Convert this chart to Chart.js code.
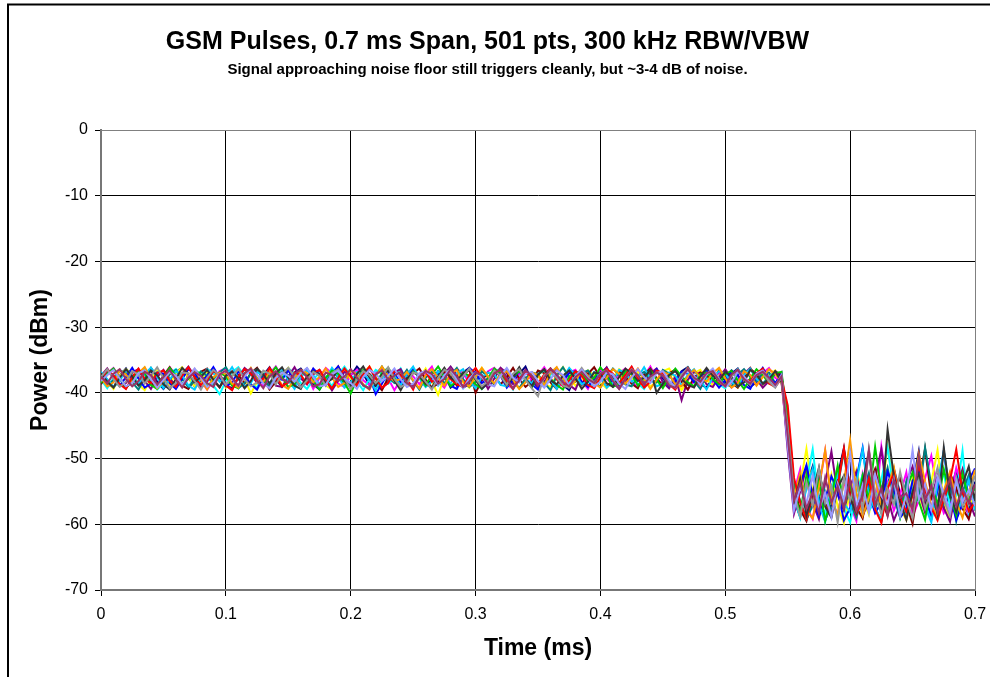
<!DOCTYPE html>
<html>
<head>
<meta charset="utf-8">
<title>GSM Pulses</title>
<script src="https://cdn.jsdelivr.net/npm/chart.js@4/dist/chart.umd.min.js"></script>
<style>
  body { margin: 0; background: #fff; overflow: hidden; }
  canvas { display: block; }
</style>
</head>
<body>
<canvas id="myChart" width="990" height="677"></canvas>
<script>
// time axis (ms), one sample every 0.005 ms
const timeMs = [
  0,0.005,0.01,0.015,0.02,0.025,0.03,0.035,0.04,0.045,
  0.05,0.055,0.06,0.065,0.07,0.075,0.08,0.085,0.09,0.095,
  0.1,0.105,0.11,0.115,0.12,0.125,0.13,0.135,0.14,0.145,
  0.15,0.155,0.16,0.165,0.17,0.175,0.18,0.185,0.19,0.195,
  0.2,0.205,0.21,0.215,0.22,0.225,0.23,0.235,0.24,0.245,
  0.25,0.255,0.26,0.265,0.27,0.275,0.28,0.285,0.29,0.295,
  0.3,0.305,0.31,0.315,0.32,0.325,0.33,0.335,0.34,0.345,
  0.35,0.355,0.36,0.365,0.37,0.375,0.38,0.385,0.39,0.395,
  0.4,0.405,0.41,0.415,0.42,0.425,0.43,0.435,0.44,0.445,
  0.45,0.455,0.46,0.465,0.47,0.475,0.48,0.485,0.49,0.495,
  0.5,0.505,0.51,0.515,0.52,0.525,0.53,0.535,0.54,0.545,
  0.55,0.555,0.56,0.565,0.57,0.575,0.58,0.585,0.59,0.595,
  0.6,0.605,0.61,0.615,0.62,0.625,0.63,0.635,0.64,0.645,
  0.65,0.655,0.66,0.665,0.67,0.675,0.68,0.685,0.69,0.695,
  0.7
];

const xTicks = [0, 0.1, 0.2, 0.3, 0.4, 0.5, 0.6, 0.7];
const yTicks = [0, -10, -20, -30, -40, -50, -60, -70];

// power traces (dBm), one per sweep
const traceNavy = [
  -37.1,-38.6,-39.2,-37.4,-36.3,-37.9,-38.8,-37.0,-36.6,-38.3,
  -39.4,-38.1,-36.8,-36.2,-37.7,-39.0,-38.4,-37.2,-36.5,-37.8,
  -38.9,-39.3,-37.6,-36.4,-37.0,-38.5,-37.3,-36.1,-37.9,-39.1,
  -38.2,-36.9,-36.3,-37.5,-38.7,-39.5,-37.8,-36.6,-37.2,-38.6,
  -37.4,-36.0,-37.1,-38.8,-39.0,-37.7,-36.5,-38.1,-39.3,-37.3,
  -36.4,-37.6,-38.9,-38.0,-36.7,-37.2,-39.2,-38.3,-36.9,-36.2,
  -37.8,-39.4,-38.5,-37.0,-36.3,-37.7,-38.6,-37.1,-36.0,-38.2,
  -39.1,-37.5,-36.6,-37.9,-38.8,-39.6,-37.4,-36.5,-37.3,-38.4,
  -37.0,-36.2,-38.0,-39.3,-38.1,-36.8,-37.6,-38.9,-37.2,-36.4,
  -37.8,-39.0,-38.3,-36.7,-36.1,-37.5,-38.7,-39.2,-37.6,-36.9,
  -38.2,-37.1,-36.3,-37.9,-39.1,-38.4,-36.8,-37.4,-38.6,-37.0,
  -45.9,
  -56.3,-58.9,-54.1,-51.2,-55.8,-59.4,-57.0,-52.6,-48.4,-54.7,
  -58.2,-56.1,-52.9,-57.5,-59.6,-53.8,-51.5,-55.3,-58.7,-54.0,
  -48.9,-56.6,-59.1,-53.2,-57.8,-55.0,-51.8,-56.9,-58.4,-53.5
];
const traceMagenta = [
  -38.4,-37.0,-36.2,-37.6,-39.1,-38.5,-36.9,-36.4,-38.0,-39.3,
  -37.5,-36.1,-37.3,-38.9,-37.8,-36.6,-38.2,-39.5,-38.1,-36.7,
  -36.3,-37.9,-39.0,-37.2,-36.5,-38.4,-38.9,-37.1,-36.0,-37.6,
  -39.2,-38.3,-36.8,-37.4,-39.4,-37.7,-36.2,-37.0,-38.6,-39.1,
  -37.3,-36.5,-38.1,-38.8,-36.9,-36.3,-37.8,-39.6,-38.0,-36.6,
  -37.5,-38.7,-37.1,-36.0,-38.3,-39.2,-37.6,-36.4,-37.0,-38.5,
  -39.0,-37.9,-36.7,-36.2,-37.4,-38.8,-39.3,-37.2,-36.8,-38.1,
  -37.3,-36.1,-37.7,-39.1,-38.6,-36.9,-36.5,-38.2,-39.4,-37.5,
  -36.6,-37.8,-38.9,-37.0,-36.3,-38.4,-39.0,-37.4,-36.0,-37.9,
  -38.7,-37.2,-36.4,-38.0,-39.5,-38.2,-36.7,-37.1,-38.5,-36.9,
  -37.6,-39.2,-38.1,-36.5,-37.3,-38.8,-37.0,-36.2,-37.7,-38.3,
  -47.6,
  -55.1,-51.6,-57.4,-59.2,-54.5,-48.8,-56.3,-58.6,-53.4,-57.1,
  -59.5,-52.3,-55.7,-58.0,-48.2,-54.2,-57.9,-55.5,-52.1,-58.8,
  -56.4,-53.0,-49.6,-55.2,-58.3,-56.8,-51.4,-54.6,-59.0,-55.9
];
const traceYellow = [
  -36.9,-38.2,-39.4,-37.5,-36.4,-37.1,-38.7,-39.6,-37.9,-36.6,
  -37.3,-38.8,-37.0,-36.1,-37.7,-39.0,-38.3,-36.8,-36.3,-38.0,
  -39.2,-37.4,-36.5,-37.8,-40.1,-38.4,-36.9,-37.2,-38.6,-37.1,
  -36.2,-37.6,-39.1,-38.0,-36.7,-37.4,-38.9,-39.5,-37.3,-36.4,
  -37.9,-38.5,-37.0,-36.0,-37.5,-39.3,-38.1,-36.6,-37.2,-38.8,
  -39.0,-37.7,-36.3,-38.2,-40.3,-37.6,-36.8,-37.1,-38.4,-39.2,
  -37.5,-36.2,-37.9,-38.7,-37.0,-36.5,-38.3,-39.4,-37.8,-36.9,
  -37.4,-38.6,-39.1,-37.2,-36.1,-37.6,-38.9,-38.0,-36.6,-37.3,
  -38.5,-39.3,-37.7,-36.4,-37.1,-38.2,-36.8,-37.9,-39.0,-38.4,
  -36.7,-36.3,-37.8,-39.6,-38.1,-37.0,-36.5,-38.0,-38.8,-37.4,
  -36.9,-38.3,-39.2,-37.6,-36.2,-37.5,-38.7,-37.3,-36.6,-38.1,
  -44.3,
  -57.6,-54.0,-48.5,-55.4,-58.9,-56.2,-52.4,-57.3,-59.8,-54.9,
  -51.7,-56.0,-58.5,-53.1,-55.9,-48.1,-54.8,-57.7,-59.3,-52.8,
  -55.6,-58.1,-53.6,-48.7,-56.7,-59.1,-54.3,-52.0,-57.0,-55.8
];
const traceCyan = [
  -38.0,-39.3,-37.7,-36.5,-37.2,-38.8,-37.4,-36.2,-38.1,-39.5,
  -38.6,-37.0,-36.4,-37.9,-39.1,-37.6,-36.7,-37.3,-38.9,-40.2,
  -38.2,-36.8,-36.1,-37.5,-38.7,-39.2,-37.1,-36.6,-38.4,-37.8,
  -36.3,-37.0,-38.5,-39.4,-38.0,-36.9,-37.6,-39.0,-37.2,-36.0,
  -37.4,-38.3,-39.6,-37.9,-36.5,-37.1,-38.6,-37.7,-36.3,-38.2,
  -39.1,-37.3,-36.8,-38.0,-38.9,-37.5,-36.1,-37.8,-39.3,-38.4,
  -36.9,-37.2,-38.7,-37.0,-36.4,-38.1,-39.5,-37.6,-36.6,-37.4,
  -38.8,-39.0,-37.3,-36.2,-37.9,-38.5,-37.1,-36.7,-38.3,-39.2,
  -37.8,-36.5,-37.5,-38.9,-37.0,-36.3,-38.6,-39.4,-37.7,-36.8,
  -37.2,-38.4,-39.1,-37.5,-36.1,-37.6,-38.2,-37.9,-36.6,-38.7,
  -39.3,-37.4,-36.4,-37.8,-38.5,-37.0,-36.9,-38.3,-39.0,-37.6,
  -46.4,
  -55.9,-59.0,-53.5,-48.6,-56.7,-58.3,-54.4,-51.9,-57.6,-59.7,
  -55.2,-52.5,-58.0,-56.4,-53.3,-48.3,-55.0,-58.6,-57.2,-53.9,
  -51.1,-56.1,-59.3,-54.7,-52.2,-57.4,-55.6,-48.8,-58.5,-56.0
];
const tracePurple = [
  -37.4,-36.3,-37.8,-39.0,-38.5,-36.9,-36.4,-38.2,-39.4,-37.6,
  -36.5,-37.9,-38.8,-37.1,-36.0,-37.5,-39.2,-38.3,-36.7,-37.2,
  -38.6,-39.5,-37.7,-36.2,-37.0,-38.4,-37.3,-36.6,-38.9,-39.1,
  -37.5,-36.1,-37.8,-38.7,-37.2,-36.5,-38.0,-39.6,-38.1,-36.8,
  -37.4,-38.9,-37.0,-36.3,-37.7,-39.3,-38.4,-36.9,-36.4,-38.2,
  -39.0,-37.6,-36.6,-37.9,-38.5,-37.1,-36.0,-37.3,-39.2,-38.7,
  -36.8,-37.5,-39.4,-37.8,-36.2,-37.0,-38.6,-38.1,-36.5,-37.7,
  -39.1,-38.3,-36.9,-36.4,-37.6,-38.8,-39.5,-37.2,-36.7,-38.0,
  -37.3,-36.1,-37.9,-39.0,-38.2,-36.6,-37.4,-38.5,-37.0,-36.3,
  -38.4,-39.3,-37.5,-41.1,-38.0,-36.8,-37.2,-38.7,-39.1,-37.6,
  -36.4,-37.8,-38.9,-37.1,-36.2,-37.9,-39.2,-38.2,-36.7,-37.3,
  -48.8,
  -58.4,-55.0,-51.3,-56.8,-59.2,-53.7,-48.9,-55.5,-57.9,-54.2,
  -52.0,-58.7,-56.5,-53.0,-48.6,-55.8,-59.4,-57.1,-53.6,-51.2,
  -54.9,-58.2,-56.0,-52.7,-57.5,-59.6,-54.5,-51.6,-56.3,-58.8
];
const traceMaroon = [
  -38.7,-37.2,-36.4,-37.8,-39.3,-38.0,-36.6,-37.1,-38.5,-39.0,
  -37.4,-36.1,-37.6,-38.9,-39.4,-37.9,-36.8,-36.3,-38.1,-39.2,
  -37.5,-36.7,-37.3,-38.6,-37.0,-36.2,-37.8,-39.5,-38.3,-36.9,
  -36.5,-38.0,-39.1,-37.6,-36.4,-37.2,-38.8,-37.4,-36.0,-37.9,
  -39.3,-38.4,-36.7,-37.1,-38.5,-39.6,-37.7,-36.6,-37.3,-38.2,
  -37.0,-36.3,-38.0,-39.2,-38.6,-36.8,-37.5,-38.9,-37.2,-36.5,
  -40.0,-38.1,-36.9,-37.4,-38.7,-37.6,-36.2,-37.9,-39.1,-38.3,
  -36.6,-37.0,-38.4,-39.4,-37.8,-36.4,-37.3,-38.8,-37.1,-36.1,
  -37.7,-39.0,-38.2,-36.7,-37.5,-38.6,-39.3,-37.2,-36.3,-37.8,
  -38.9,-37.0,-36.5,-38.3,-39.5,-37.6,-36.9,-37.4,-38.1,-36.6,
  -37.3,-38.5,-39.2,-37.7,-36.4,-37.1,-38.7,-38.0,-36.8,-37.5,
  -45.2,
  -54.6,-57.8,-59.5,-55.7,-52.1,-56.9,-58.4,-53.2,-48.7,-55.3,
  -57.4,-59.1,-54.0,-51.6,-56.2,-58.7,-55.1,-52.9,-57.0,-59.9,
  -53.8,-48.5,-55.9,-58.0,-56.5,-52.3,-54.4,-57.6,-59.2,-55.4
];
const traceTeal = [
  -37.3,-38.9,-38.1,-36.6,-37.0,-38.4,-39.5,-37.8,-36.2,-37.5,
  -38.7,-37.2,-36.5,-37.9,-39.1,-38.2,-36.8,-37.4,-38.6,-36.9,
  -36.1,-37.7,-39.3,-38.5,-37.0,-36.4,-38.0,-39.0,-37.6,-36.7,
  -37.3,-38.8,-37.1,-36.3,-37.8,-39.4,-38.3,-36.9,-37.5,-38.1,
  -36.6,-37.2,-38.9,-39.2,-37.4,-36.0,-37.6,-38.5,-37.9,-36.5,
  -38.2,-39.5,-37.7,-36.8,-37.1,-38.6,-37.3,-36.2,-37.9,-39.1,
  -38.4,-36.7,-37.5,-38.8,-37.0,-36.4,-38.1,-39.3,-37.8,-36.9,
  -37.2,-38.5,-39.6,-37.4,-36.1,-37.7,-38.3,-37.0,-36.6,-38.0,
  -39.2,-37.6,-36.3,-37.3,-38.7,-39.0,-37.5,-36.8,-37.9,-38.4,
  -36.5,-37.1,-38.9,-37.7,-36.2,-38.2,-39.4,-37.4,-36.7,-37.8,
  -38.6,-39.1,-37.2,-36.4,-37.6,-38.3,-37.0,-36.9,-38.5,-37.7,
  -43.1,
  -53.7,-56.4,-59.3,-57.1,-52.8,-55.0,-58.2,-54.3,-48.9,-56.6,
  -59.0,-55.4,-52.2,-57.7,-54.8,-51.4,-56.0,-58.9,-53.5,-57.3,
  -55.9,-48.3,-54.1,-58.4,-56.8,-53.0,-59.5,-55.1,-52.5,-57.9
];
const traceBlue = [
  -38.3,-36.7,-37.4,-38.9,-37.6,-36.2,-37.8,-39.2,-38.6,-36.9,
  -37.1,-38.5,-39.4,-37.9,-36.4,-37.0,-38.2,-37.5,-36.1,-37.7,
  -39.0,-38.4,-36.8,-37.3,-38.7,-39.5,-37.6,-36.5,-37.2,-38.0,
  -36.6,-37.9,-39.1,-38.3,-36.3,-37.4,-38.8,-37.0,-36.0,-37.8,
  -39.3,-38.1,-36.7,-37.5,-40.2,-38.6,-36.9,-37.1,-38.4,-37.2,
  -36.4,-37.7,-39.0,-38.2,-36.8,-37.3,-38.9,-39.4,-37.5,-36.2,
  -37.0,-38.5,-37.8,-36.6,-37.4,-39.2,-38.0,-36.5,-37.9,-38.7,
  -39.5,-37.3,-36.3,-37.6,-38.1,-37.0,-36.7,-38.3,-39.1,-37.8,
  -36.9,-37.2,-38.6,-39.3,-37.4,-36.1,-37.7,-38.9,-38.0,-36.4,
  -37.5,-39.0,-38.2,-36.8,-37.1,-38.4,-37.6,-36.5,-37.9,-39.2,
  -38.1,-36.6,-37.3,-38.8,-39.4,-37.5,-36.2,-37.8,-38.5,-37.2,
  -47.0,
  -57.2,-53.9,-51.0,-55.6,-58.8,-56.3,-52.7,-54.9,-59.4,-57.5,
  -53.1,-48.4,-55.2,-58.3,-56.7,-52.0,-54.5,-59.0,-57.8,-53.4,
  -51.8,-56.1,-58.6,-54.8,-48.9,-55.7,-59.3,-56.9,-53.3,-51.5
];
const traceSky = [
  -36.8,-37.9,-39.1,-38.2,-36.5,-37.3,-38.7,-37.1,-36.2,-37.6,
  -39.3,-38.0,-36.7,-37.4,-38.9,-39.5,-37.7,-36.4,-37.0,-38.3,
  -37.5,-36.1,-37.8,-39.0,-38.5,-36.9,-37.2,-38.6,-37.0,-36.3,
  -38.1,-39.4,-37.6,-36.6,-37.3,-38.8,-37.9,-36.2,-37.5,-39.2,
  -38.4,-36.8,-37.1,-38.0,-39.6,-37.7,-36.5,-37.4,-38.9,-37.2,
  -36.0,-37.8,-39.1,-38.3,-36.7,-37.5,-38.6,-37.0,-36.4,-38.2,
  -39.3,-37.6,-36.9,-37.2,-38.8,-39.0,-37.4,-36.3,-37.9,-38.5,
  -37.1,-36.6,-38.0,-39.4,-37.7,-36.2,-37.3,-38.7,-38.1,-36.8,
  -37.5,-39.2,-38.4,-36.5,-37.0,-38.3,-37.6,-36.1,-37.8,-39.0,
  -38.6,-36.9,-37.4,-38.9,-37.2,-36.4,-38.0,-39.5,-37.7,-36.7,
  -37.1,-38.4,-39.0,-37.3,-36.3,-37.9,-38.6,-37.5,-36.8,-38.2,
  -44.7,
  -56.1,-58.5,-54.6,-51.5,-57.0,-59.6,-55.3,-52.4,-56.8,-58.1,
  -53.7,-48.6,-55.9,-57.6,-59.2,-54.0,-51.9,-56.5,-58.9,-55.0,
  -52.6,-57.3,-59.7,-53.9,-48.8,-55.5,-58.3,-56.2,-53.2,-57.8
];
const traceGreen = [
  -38.5,-37.1,-36.3,-37.7,-39.2,-38.3,-36.6,-37.0,-38.8,-39.4,
  -37.6,-36.2,-37.4,-38.6,-37.9,-36.5,-37.2,-39.0,-38.1,-36.9,
  -37.5,-38.9,-39.3,-37.0,-36.4,-37.8,-38.4,-37.3,-36.1,-37.6,
  -39.1,-38.7,-36.8,-37.4,-38.2,-39.5,-37.7,-36.6,-37.1,-38.5,
  -40.1,-37.9,-36.5,-37.3,-38.6,-37.0,-36.2,-37.8,-39.3,-38.4,
  -36.7,-37.5,-38.9,-37.2,-36.0,-37.6,-39.0,-38.2,-36.9,-37.4,
  -38.7,-39.4,-37.8,-36.3,-37.1,-38.5,-37.6,-36.6,-38.0,-39.2,
  -37.3,-36.4,-37.9,-38.8,-39.5,-37.5,-36.8,-37.0,-38.3,-37.7,
  -36.1,-37.4,-39.1,-38.6,-36.7,-37.2,-38.9,-37.8,-36.5,-38.0,
  -39.3,-37.6,-36.3,-37.5,-38.4,-39.0,-37.1,-36.9,-37.9,-38.7,
  -37.2,-36.6,-38.1,-39.4,-37.8,-36.4,-37.3,-38.5,-37.0,-36.8,
  -44.0,
  -55.0,-58.3,-52.5,-56.9,-53.4,-59.5,-55.8,-51.1,-57.4,-54.0,
  -58.0,-52.6,-56.2,-48.2,-55.1,-57.8,-53.3,-58.9,-54.7,-52.1,
  -56.5,-59.3,-53.8,-57.0,-51.6,-55.8,-58.6,-52.3,-56.1,-54.5
];
const traceOrange = [
  -37.7,-39.0,-38.4,-36.6,-37.2,-38.5,-37.0,-36.1,-37.8,-39.3,
  -38.2,-36.8,-37.5,-38.9,-37.3,-36.4,-38.0,-39.5,-37.6,-36.9,
  -37.1,-38.6,-39.2,-37.4,-36.2,-37.9,-38.3,-36.7,-37.3,-38.8,
  -39.4,-37.8,-36.5,-37.0,-38.4,-37.6,-36.3,-37.7,-39.1,-38.5,
  -36.6,-37.2,-38.7,-39.5,-37.5,-36.0,-37.4,-38.2,-37.9,-36.8,
  -38.1,-39.3,-37.3,-36.4,-37.7,-38.9,-37.1,-36.5,-38.3,-39.0,
  -37.6,-36.2,-37.5,-38.6,-37.2,-36.7,-38.0,-39.4,-38.4,-36.9,
  -37.3,-38.8,-37.0,-36.1,-37.8,-39.1,-38.2,-36.6,-37.4,-38.5,
  -39.2,-37.7,-36.4,-37.1,-38.6,-37.5,-36.3,-37.9,-39.4,-38.0,
  -36.8,-37.2,-38.7,-39.0,-37.4,-36.5,-37.6,-38.3,-37.0,-36.2,
  -37.8,-39.2,-38.5,-36.7,-37.3,-38.9,-37.6,-36.4,-37.1,-38.4,
  -46.7,
  -55.7,-52.3,-57.9,-59.1,-54.3,-48.7,-56.4,-58.5,-53.6,-47.2,
  -55.2,-58.7,-56.0,-52.8,-57.6,-54.5,-51.3,-56.8,-59.3,-55.5,
  -49.3,-53.5,-57.1,-58.9,-54.9,-52.0,-56.6,-59.0,-55.3,-51.7
];
const traceRed = [
  -38.1,-36.5,-37.3,-38.7,-39.4,-37.6,-36.3,-37.9,-38.5,-37.0,
  -36.6,-38.2,-39.1,-37.4,-36.1,-37.7,-38.8,-38.0,-36.7,-37.2,
  -38.9,-39.6,-37.5,-36.4,-37.1,-38.3,-37.8,-36.2,-37.6,-39.0,
  -38.4,-36.9,-37.3,-38.6,-37.0,-36.5,-38.1,-39.3,-37.7,-36.3,
  -37.5,-38.9,-37.2,-36.0,-37.8,-39.2,-38.5,-36.6,-37.4,-38.0,
  -39.5,-37.1,-36.8,-38.3,-37.6,-36.4,-37.9,-38.7,-39.1,-37.3,
  -36.2,-37.7,-38.4,-37.0,-36.5,-38.2,-39.4,-37.8,-36.9,-37.5,
  -38.6,-37.2,-36.3,-37.9,-39.0,-38.1,-36.7,-37.4,-38.8,-39.3,
  -37.6,-36.4,-37.1,-38.5,-37.3,-36.0,-37.8,-39.2,-38.3,-36.6,
  -37.0,-38.7,-39.5,-37.5,-36.2,-37.7,-38.9,-37.1,-36.8,-38.4,
  -39.0,-37.4,-36.5,-37.9,-38.2,-37.0,-36.3,-38.6,-39.1,-37.8,
  -41.9,
  -52.9,-56.7,-59.2,-55.4,-51.8,-57.1,-58.8,-54.2,-48.5,-55.9,
  -58.4,-56.3,-53.0,-57.7,-59.8,-54.6,-52.2,-56.0,-58.1,-55.6,
  -51.0,-54.8,-57.5,-59.4,-56.2,-53.3,-48.6,-55.1,-58.0,-56.7
];
const traceBlack = [
  -37.0,-38.3,-39.2,-37.7,-36.4,-37.5,-38.9,-38.1,-36.6,-37.3,
  -38.7,-39.5,-37.9,-36.2,-37.1,-38.4,-37.6,-36.5,-38.0,-39.1,
  -37.4,-36.8,-37.8,-39.3,-38.2,-36.3,-37.2,-38.6,-37.0,-36.1,
  -37.7,-38.9,-39.4,-37.5,-36.7,-37.3,-38.5,-37.9,-36.4,-38.2,
  -39.0,-37.1,-36.0,-37.6,-38.8,-37.2,-36.6,-38.1,-39.6,-37.8,
  -36.9,-37.4,-38.6,-39.2,-37.5,-36.2,-37.7,-38.3,-37.0,-36.5,
  -38.0,-39.3,-38.4,-36.8,-37.3,-38.9,-37.6,-36.1,-37.9,-39.0,
  -37.2,-36.4,-38.1,-38.7,-37.4,-36.6,-37.8,-39.4,-38.3,-36.9,
  -37.1,-38.5,-39.1,-37.6,-36.3,-37.0,-38.2,-37.7,-36.5,-40.0,
  -38.6,-37.3,-36.7,-37.9,-38.8,-39.2,-37.5,-36.2,-37.4,-38.1,
  -36.8,-37.6,-39.0,-38.4,-36.5,-37.2,-38.6,-37.9,-36.7,-38.3,
  -45.5,
  -56.9,-53.1,-58.6,-55.2,-51.4,-57.3,-59.0,-54.4,-52.6,-56.1,
  -58.2,-53.8,-48.9,-55.5,-57.9,-45.6,-52.7,-56.6,-59.3,-55.0,
  -52.4,-57.2,-54.7,-58.5,-48.3,-55.6,-58.1,-53.9,-51.2,-56.4
];
const traceGray = [
  -37.6,-36.4,-37.9,-39.1,-38.3,-36.7,-37.2,-38.6,-37.4,-36.1,
  -37.8,-39.3,-38.5,-36.9,-37.0,-38.2,-39.5,-37.7,-36.5,-37.3,
  -38.8,-37.5,-36.3,-37.9,-39.0,-38.4,-36.6,-37.1,-38.7,-37.2,
  -36.2,-37.6,-39.2,-38.1,-36.8,-37.4,-38.9,-37.0,-36.4,-37.8,
  -39.4,-38.0,-36.7,-37.3,-38.5,-37.6,-36.1,-37.9,-39.1,-38.6,
  -36.9,-37.2,-38.3,-39.5,-37.7,-36.5,-37.0,-38.4,-37.5,-36.3,
  -37.8,-39.0,-38.2,-36.6,-37.4,-38.8,-37.1,-36.4,-38.0,-39.3,
  -40.5,-37.3,-36.8,-37.7,-38.9,-39.2,-37.5,-36.2,-37.6,-38.5,
  -37.0,-36.6,-38.1,-39.4,-37.8,-36.4,-37.3,-38.7,-37.9,-36.9,
  -37.4,-38.6,-39.1,-37.2,-36.3,-37.8,-38.4,-37.1,-36.7,-38.2,
  -39.0,-37.5,-36.5,-37.9,-38.8,-37.3,-36.9,-38.3,-39.2,-37.6,
  -45.4,
  -55.4,-58.8,-53.6,-57.1,-51.5,-56.8,-54.2,-59.7,-52.9,-56.4,
  -53.3,-57.8,-48.5,-55.2,-58.5,-54.7,-57.0,-52.0,-56.2,-59.1,
  -53.5,-57.6,-54.9,-51.4,-56.3,-58.7,-53.0,-57.3,-55.6,-52.6
];
const traceLavender = [
  -38.2,-37.3,-36.5,-37.8,-39.0,-38.5,-37.0,-36.6,-37.9,-39.2,
  -38.0,-36.8,-37.4,-38.7,-37.6,-36.3,-37.7,-39.1,-38.4,-37.1,
  -36.7,-37.9,-38.9,-37.5,-36.4,-37.2,-38.6,-39.3,-37.7,-36.9,
  -37.4,-38.3,-37.0,-36.2,-37.6,-39.0,-38.8,-37.2,-36.6,-37.8,
  -38.5,-39.4,-37.6,-36.5,-37.1,-38.2,-37.4,-36.3,-37.9,-39.1,
  -38.6,-37.0,-36.7,-37.5,-38.8,-37.3,-36.4,-38.0,-39.3,-37.8,
  -36.9,-37.6,-38.7,-39.0,-37.4,-36.2,-37.7,-38.4,-37.1,-36.8,
  -38.2,-39.2,-37.9,-36.6,-37.3,-38.9,-37.5,-36.5,-37.8,-39.0,
  -38.3,-36.9,-37.2,-38.6,-39.4,-37.7,-36.4,-37.6,-38.5,-37.0,
  -36.7,-38.1,-39.2,-37.8,-36.5,-37.4,-38.8,-37.2,-36.3,-37.9,
  -39.1,-38.4,-36.8,-37.5,-38.6,-37.1,-36.6,-37.8,-38.9,-37.3,
  -48.0,
  -57.9,-54.4,-56.8,-52.6,-57.7,-55.2,-58.9,-53.8,-56.5,-49.2,
  -57.4,-54.0,-58.2,-52.4,-55.7,-57.0,-53.1,-58.8,-55.5,-48.7,
  -56.2,-53.9,-57.8,-52.8,-55.3,-58.1,-53.5,-56.6,-54.8,-57.2
];
const tracePlum = [
  -37.5,-38.6,-37.1,-36.4,-37.9,-39.0,-38.2,-36.8,-37.3,-38.7,
  -37.6,-36.5,-38.0,-39.2,-37.7,-36.9,-37.4,-38.5,-39.1,-37.2,
  -36.6,-37.8,-38.9,-37.0,-36.3,-38.1,-39.3,-37.5,-36.7,-37.9,
  -38.4,-37.1,-36.5,-37.6,-39.0,-38.7,-36.9,-37.3,-38.2,-37.5,
  -36.4,-37.7,-38.8,-39.4,-37.2,-36.6,-38.0,-37.4,-36.8,-38.5,
  -39.2,-37.6,-36.7,-37.1,-38.6,-37.9,-36.4,-37.5,-39.1,-38.3,
  -36.9,-37.3,-38.7,-37.0,-36.5,-37.8,-39.3,-38.1,-36.6,-37.4,
  -38.9,-37.7,-36.3,-37.2,-38.4,-39.0,-37.6,-36.8,-37.9,-38.5,
  -37.1,-36.6,-38.2,-39.4,-37.8,-36.5,-37.3,-38.7,-37.5,-36.9,
  -37.4,-38.9,-39.2,-37.6,-36.4,-37.7,-38.3,-37.0,-36.7,-38.1,
  -39.0,-37.2,-36.5,-37.9,-38.6,-37.3,-36.8,-37.7,-38.8,-37.5,
  -46.6,
  -56.4,-53.7,-57.6,-55.1,-58.3,-52.9,-56.7,-54.2,-57.5,-53.2,
  -58.0,-55.6,-48.8,-57.1,-54.5,-58.7,-53.3,-56.0,-55.3,-57.8,
  -49.7,-56.3,-54.1,-58.2,-55.4,-53.1,-57.3,-54.6,-56.8,-53.9
];

// first sweep drawn first, last sweep ends up on top
const traces = [traceNavy, traceMagenta, traceYellow, traceCyan, tracePurple, traceMaroon,
                traceTeal, traceBlue, traceSky, traceGreen, traceOrange, traceRed,
                traceBlack, traceGray, traceLavender, tracePlum];
const traceColors = ['#000080', '#FF00FF', '#FFFF00', '#00FFFF', '#800080', '#800000',
                     '#008080', '#0000FF', '#00CCFF', '#00CC00', '#FF9900', '#FF0000',
                     '#333333', '#969696', '#9999FF', '#993366'];

const FONT = 'Arial, "Liberation Sans", Helvetica, sans-serif';

// Chart.js paints dataset 0 last, so reverse to keep the sweep order
let datasets = traces.map((t, i) => ({
    label: 'Sweep ' + (i + 1),
    data: t,
    borderColor: traceColors[i],
    borderWidth: 2,
    pointRadius: 0,
    fill: false,
    tension: 0
})).reverse();

const frame = {
    id: 'frame',
    beforeDraw(chart) {
        const c = chart.ctx;
        c.save();
        c.fillStyle = '#fff';
        c.fillRect(0, 0, chart.width, chart.height);
        c.restore();
    },
    afterDraw(chart) {
        const c = chart.ctx;
        const a = chart.chartArea;
        c.save();
        c.strokeStyle = '#000';
        c.lineWidth = 2;
        c.strokeRect(8, 4.5, 1100, 800);
        c.strokeStyle = '#808080';
        c.lineWidth = 1;
        c.beginPath();
        c.moveTo(a.left, a.top + 0.5);
        c.lineTo(a.right + 0.5, a.top + 0.5);
        c.lineTo(a.right + 0.5, a.bottom);
        c.stroke();
        c.restore();
    }
};

const ctx = document.getElementById('myChart').getContext('2d');
const myChart = new Chart(ctx, {
    type: 'line',
    data: {
        labels: timeMs,
        datasets: datasets
    },
    plugins: [frame],
    options: {
        responsive: false,
        animation: false,
        layout: {
            padding: { left: 0, right: 15, top: 0, bottom: 0 }
        },
        scales: {
            x: {
                type: 'linear',
                min: 0,
                max: 0.7,
                afterBuildTicks: s => { s.ticks = xTicks.map(v => ({ value: v })); },
                afterFit: s => {
                    s.height = 87;
                    s.paddingLeft = 0;
                    s.paddingRight = 15;
                },
                ticks: {
                    color: '#000',
                    font: { family: FONT, size: 16 },
                    padding: 9,
                    maxRotation: 0,
                    callback: v => String(v)
                },
                grid: {
                    color: '#000',
                    lineWidth: 1,
                    tickLength: 6,
                    tickColor: '#000'
                },
                border: { display: true, color: '#777', width: 2 },
                title: {
                    display: true,
                    text: 'Time (ms)',
                    color: '#000',
                    font: { family: FONT, size: 23, weight: 'bold' },
                    padding: { top: 2, bottom: 15 }
                }
            },
            y: {
                min: -70,
                max: 0,
                afterBuildTicks: s => { s.ticks = yTicks.map(v => ({ value: v })); },
                afterFit: s => { s.width = 101; },
                ticks: {
                    color: '#000',
                    font: { family: FONT, size: 16 },
                    padding: 7,
                    callback: v => String(v)
                },
                grid: {
                    color: c => (c.tick && c.tick.value === 0) ? '#808080' : '#000',
                    lineWidth: 1,
                    tickLength: 6,
                    tickColor: '#000'
                },
                border: { display: true, color: '#777', width: 2 },
                title: {
                    display: true,
                    text: 'Power (dBm)',
                    color: '#000',
                    font: { family: FONT, size: 23, weight: 'bold' },
                    padding: { top: 27, bottom: 0 }
                }
            }
        },
        plugins: {
            legend: { display: false },
            tooltip: { enabled: false },
            title: {
                display: true,
                text: 'GSM Pulses, 0.7 ms Span, 501 pts, 300 kHz RBW/VBW',
                color: '#000',
                font: { family: FONT, size: 25, weight: 'bold' },
                padding: { top: 27, bottom: 0 }
            },
            subtitle: {
                display: true,
                text: 'Signal approaching noise floor still triggers cleanly, but ~3-4 dB of noise.',
                color: '#000',
                font: { family: FONT, size: 15, weight: 'bold' },
                padding: { top: 4, bottom: 51 }
            }
        }
    }
});
</script>
</body>
</html>
